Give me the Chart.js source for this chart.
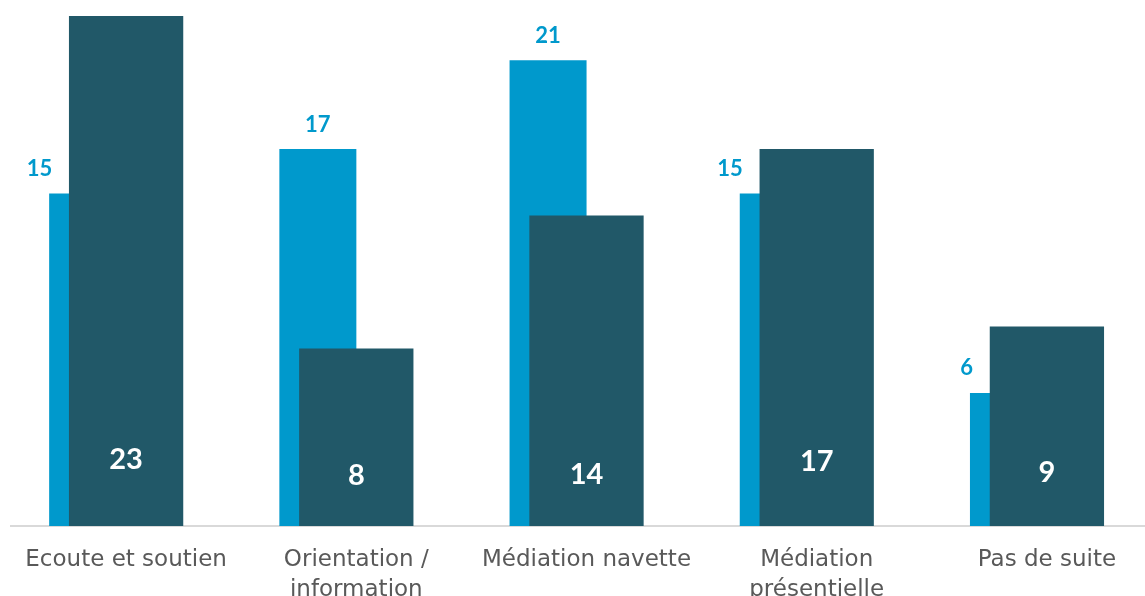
<!DOCTYPE html>
<html>
<head>
<meta charset="utf-8">
<script src="https://cdn.jsdelivr.net/npm/chart.js"></script>
<style>
  html, body { margin: 0; padding: 0; background: #fff; overflow: hidden; }
  #wrap { width: 1145px; height: 596px; overflow: hidden; }
</style>
</head>
<body>
<div id="wrap"><canvas id="chart" width="1180" height="596"></canvas></div>
<script>
const categories = [
  ['Ecoute et soutien'],
  ['Orientation /', 'information'],
  ['Médiation navette'],
  ['Médiation', 'présentielle'],
  ['Pas de suite']
];
const lightValues = [15, 17, 21, 15, 6];
const darkValues = [23, 8, 14, 17, 9];

// px from the axis to the middle of each white label
const darkLabelLift = [68, 52, 53, 66, 55];

const LIGHT = '#0099cc';
const DARK = '#215868';
// light bars sit a bit left of the category centre
const shift = 0.167;

const valueLabels = {
  id: 'valueLabels',
  afterDatasetsDraw(chart) {
    const ctx = chart.ctx;
    const dark = chart.getDatasetMeta(0).data;
    const light = chart.getDatasetMeta(1).data;
    const base = chart.scales.y.getPixelForValue(0);
    ctx.save();
    ctx.textBaseline = 'alphabetic';

    ctx.font = 'bold 22px Lato';
    ctx.fillStyle = LIGHT;
    light.forEach((bar, i) => {
      // when the dark bar is taller, the label moves to the left of the bar
      const covered = darkValues[i] >= lightValues[i];
      const left = bar.x - bar.width / 2;
      ctx.textAlign = covered ? 'right' : 'center';
      ctx.fillText(String(lightValues[i]), covered ? left + 3 : bar.x, bar.y - 17.5);
    });

    ctx.font = 'bold 29px Lato';
    ctx.fillStyle = '#ffffff';
    ctx.textAlign = 'center';
    dark.forEach((bar, i) => {
      ctx.fillText(String(darkValues[i]), bar.x, base - darkLabelLift[i] + 10.5);
    });
    ctx.restore();
  }
};

new Chart(document.getElementById('chart'), {
  type: 'bar',
  data: {
    labels: categories,
    datasets: [
      {
        label: 'dark',
        data: darkValues,
        backgroundColor: DARK,
        xAxisID: 'x',
        grouped: false,
        categoryPercentage: 1,
        barPercentage: 0.4965,
        order: 0
      },
      {
        label: 'light',
        data: lightValues.map((v, i) => ({ x: i, y: v })),
        backgroundColor: LIGHT,
        xAxisID: 'x2',
        grouped: false,
        categoryPercentage: 1,
        barPercentage: 0.3345,
        order: 1
      }
    ]
  },
  options: {
    responsive: false,
    animation: false,
    layout: { padding: { left: 11, right: 18, top: 16, bottom: 0 } },
    plugins: {
      legend: { display: false },
      tooltip: { enabled: false }
    },
    scales: {
      x: {
        type: 'category',
        offset: true,
        grid: { display: false, drawTicks: false },
        border: { color: '#d9d9d9', width: 2 },
        ticks: {
          color: '#595959',
          font: { family: 'DejaVu Sans', size: 23, lineHeight: 1.3 },
          padding: 19,
          maxRotation: 0,
          autoSkip: false
        },
        afterFit: s => { s.height = 70; }
      },
      x2: {
        type: 'linear',
        display: false,
        offset: false,
        bounds: 'data',
        min: -0.5 + shift,
        max: 4.5 + shift,
        afterBuildTicks: s => { s.ticks = lightValues.map((_, i) => ({ value: i })); }
      },
      y: { display: false, min: 0, max: 23 }
    }
  },
  plugins: [valueLabels]
});
</script>
</body>
</html>
